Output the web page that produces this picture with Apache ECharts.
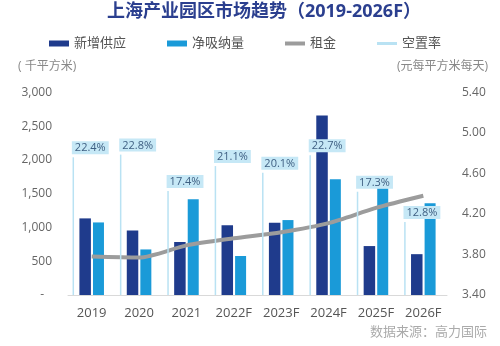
<!DOCTYPE html>
<html>
<head>
<meta charset="utf-8">
<script src="https://cdn.jsdelivr.net/npm/echarts@6/dist/echarts.min.js"></script>
<style>
  html, body { margin: 0; padding: 0; background: #fff; }
  #chart { width: 500px; height: 346px; }
</style>
</head>
<body>
<div id="chart"></div>
<script>
// Shanghai industrial park market trend, 2019-2026F
const years = ['2019', '2020', '2021', '2022F', '2023F', '2024F', '2025F', '2026F'];
const newSupply = [1135, 955, 785, 1035, 1070, 2660, 725, 605];       // 千平方米
const netAbsorption = [1075, 675, 1420, 578, 1110, 1715, 1580, 1360]; // 千平方米
const rent = [3.78, 3.77, 3.89, 3.96, 4.02, 4.11, 4.26, 4.38];        // 元/平方米/天
const vacancy = [22.4, 22.8, 17.4, 21.1, 20.1, 22.7, 17.3, 12.8];     // %
const rentTicks = [3.4, 3.8, 4.2, 4.6, 5.0, 5.4];

const FONT = "'Open Sans', 'Noto Sans CJK SC', sans-serif";
const NAVY = '#1f3b8c';
const CYAN = '#1a9ad8';
const PALE = '#b9e2f3';
const GREY = '#9c9c9c';

const chart = echarts.init(document.getElementById('chart'), null, { renderer: 'canvas' });

chart.setOption({
  animation: false,
  backgroundColor: '#fff',
  textStyle: { fontFamily: FONT },
  title: {
    text: '上海产业园区市场趋势（2019-2026F）',
    left: 107,
    top: 3,
    padding: 0,
    textStyle: { fontFamily: FONT, fontSize: 18, fontWeight: 'bold', color: '#2b3f8f' }
  },
  legend: {
    left: 44,
    top: 32,
    itemWidth: 20,
    itemHeight: 7,
    itemGap: 41,
    textStyle: { fontFamily: FONT, fontSize: 13, color: '#555' },
    data: [
      { name: '新增供应', icon: 'path://M0,0H20V6H0Z' },
      { name: '净吸纳量', icon: 'path://M0,0H20V6H0Z' },
      { name: '租金', icon: 'path://M0,0H20V4H0Z' },
      { name: '空置率', icon: 'path://M0,0H20V3H0Z' }
    ]
  },
  graphic: [
    { type: 'text', left: 18, top: 61, style: { text: '( 千平方米)', font: '12px ' + FONT, fill: '#888' } },
    { type: 'text', right: 12, top: 61, style: { text: '(元每平方米每天)', font: '12px ' + FONT, fill: '#888' } },
    { type: 'text', right: 13, top: 326, style: { text: '数据来源：高力国际', font: '13px ' + FONT, fill: '#aaa' } }
  ],
  grid: [
    { left: 68, right: 53, top: 92.5, bottom: 51 },
    // vacancy drop lines sit just left of each bar pair
    { left: 49.6, right: 71.4, top: 92.5, bottom: 51 }
  ],
  xAxis: [
    {
      type: 'category',
      gridIndex: 0,
      data: years,
      axisLine: { lineStyle: { color: '#d9d9d9', width: 1 } },
      axisTick: { show: false },
      axisLabel: { color: '#555', fontSize: 13, margin: 12, fontFamily: FONT }
    },
    { type: 'category', gridIndex: 1, data: years, show: false }
  ],
  yAxis: [
    {
      type: 'value',
      gridIndex: 0,
      min: 0,
      max: 3000,
      interval: 500,
      splitLine: { show: false },
      axisLine: { show: false },
      axisTick: { show: false },
      axisLabel: {
        color: '#666',
        fontSize: 12,
        margin: 16,
        fontFamily: FONT,
        formatter: v => v === 0 ? '{z|-}' : v.toLocaleString('en-US'),
        rich: { z: { padding: [0, 8, 0, 0], fontSize: 12, color: '#666' } }
      }
    },
    {
      type: 'value',
      gridIndex: 0,
      position: 'right',
      min: 3.4,
      max: 5.4,
      splitLine: { show: false },
      axisLine: { show: false },
      axisTick: { show: false },
      axisLabel: {
        customValues: rentTicks,
        color: '#666',
        fontSize: 12,
        margin: 15,
        fontFamily: FONT,
        formatter: v => Number(v).toFixed(2)
      }
    },
    { type: 'value', gridIndex: 1, min: 2, max: 32, show: false }
  ],
  series: [
    {
      name: '新增供应',
      type: 'bar',
      xAxisIndex: 0,
      yAxisIndex: 0,
      data: newSupply,
      barWidth: 11.5,
      barGap: '18%',
      itemStyle: { color: NAVY },
      z: 2
    },
    {
      name: '净吸纳量',
      type: 'bar',
      xAxisIndex: 0,
      yAxisIndex: 0,
      data: netAbsorption,
      barWidth: 11,
      barGap: '18%',
      itemStyle: { color: CYAN },
      z: 2
    },
    {
      name: '租金',
      type: 'line',
      xAxisIndex: 0,
      yAxisIndex: 1,
      data: rent,
      smooth: 0.25,
      showSymbol: false,
      symbol: 'none',
      lineStyle: { color: GREY, width: 4 },
      itemStyle: { color: GREY },
      z: 3
    },
    {
      name: '空置率',
      type: 'bar',
      xAxisIndex: 1,
      yAxisIndex: 2,
      data: vacancy,
      barWidth: 1.5,
      itemStyle: { color: PALE },
      z: 5,
      label: {
        show: true,
        position: 'top',
        distance: 3,
        offset: [17, 0],
        formatter: p => p.value.toFixed(1) + '%',
        fontFamily: FONT,
        fontSize: 11,
        color: '#3e5f82',
        backgroundColor: '#c6e8f6',
        padding: [1, 3, 0, 3],
        lineHeight: 12
      }
    }
  ]
});
</script>
</body>
</html>
